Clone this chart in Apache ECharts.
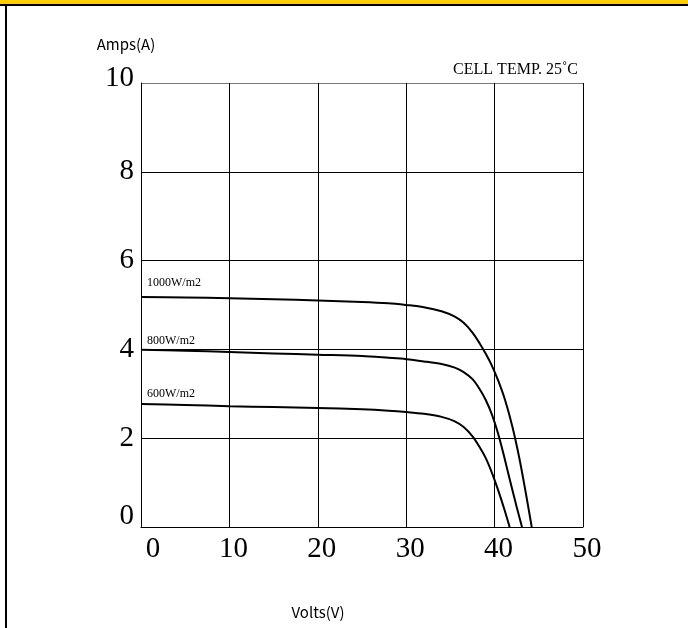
<!DOCTYPE html>
<html><head><meta charset="utf-8">
<script src="https://cdn.jsdelivr.net/npm/echarts@6/dist/echarts.min.js"></script>
<style>html,body{margin:0;padding:0;background:#fff}#c{width:688px;height:628px}</style>
</head><body><div id="c"></div>
<script>
var seriesNames = ['1000W/m2', '800W/m2', '600W/m2'];
var irr1000 = [[0,5.18],[5,5.17],[10,5.15],[15,5.13],[20,5.1],[25,5.07],[28,5.04],[30,5.0],[32,4.95],[34,4.86],[35.5,4.74],[36.5,4.6],[37.5,4.38],[38.3,4.14],[39,3.9],[39.7,3.63],[40.4,3.3],[41.2,2.85],[42,2.27],[42.8,1.55],[43.5,0.8],[44.2,0]];
var irr800 = [[0,3.99],[5,3.97],[10,3.94],[15,3.91],[20,3.88],[25,3.85],[28,3.81],[30,3.78],[32,3.73],[34,3.67],[35.5,3.59],[36.5,3.49],[37.5,3.33],[38.3,3.11],[39,2.86],[39.7,2.53],[40.4,2.1],[41.1,1.57],[41.8,1.0],[42.5,0.45],[43.1,0]];
var irr600 = [[0,2.77],[5,2.75],[10,2.72],[15,2.7],[20,2.68],[25,2.65],[28,2.62],[30,2.59],[32,2.55],[34,2.48],[35.5,2.38],[36.5,2.25],[37.5,2.04],[38.3,1.8],[39,1.55],[39.7,1.22],[40.4,0.83],[41.1,0.4],[41.7,0]];
var xTicks = [0,10,20,30,40,50];
var yTicks = [0,2,4,6,8,10];
var xTitle = 'Volts(V)';
var yTitle = 'Amps(A)';
var noteText = 'CELL TEMP. 25˚C';

var chart = echarts.init(document.getElementById('c'), null, {renderer:'canvas'});
var serif = '"Liberation Serif","Times New Roman",serif';
var sans = '"Noto Sans CJK JP","Noto Sans",sans-serif';
function mkSeries(name, data){
  return {name:name, type:'line', data:data, smooth:0.3, showSymbol:false, symbol:'none',
    lineStyle:{color:'#000', width:2}, silent:true, z:5};
}
var option = {
  backgroundColor:'#fff',
  animation:false,
  grid:{left:141, top:83, right:105, bottom:101, containLabel:false, show:false},
  xAxis:{type:'value', min:xTicks[0], max:xTicks[xTicks.length-1], interval:10,
    axisLine:{show:true, lineStyle:{color:'#000', width:1}},
    axisTick:{show:false},
    splitLine:{show:true, lineStyle:{color:'#000', width:1}},
    axisLabel:{margin:8, fontFamily:serif, fontSize:29, color:'#000',
      formatter:function(v){ return v===0 ? '{z|0}' : '{n|'+v+'}'; },
      rich:{z:{fontFamily:serif, fontSize:29, color:'#000', padding:[0,0,0,24]}, n:{fontFamily:serif, fontSize:29, color:'#000', padding:[0,0,0,8]}}}
  },
  yAxis:{type:'value', min:yTicks[0], max:yTicks[yTicks.length-1], interval:2,
    axisLine:{show:true, lineStyle:{color:'#000', width:1}},
    axisTick:{show:false},
    splitLine:{show:true, lineStyle:{color:['#000','#000','#000','#000','#000','#777'], width:1}},
    axisLabel:{margin:7, fontFamily:serif, fontSize:29, color:'#000',
      formatter:function(v){ return v===0 ? '{z|0}' : (v===10 ? '{t|10}' : '{n|'+v+'}'); },
      rich:{z:{fontFamily:serif, fontSize:29, color:'#000', padding:[0,0,22,0]},
            t:{fontFamily:serif, fontSize:29, color:'#000', padding:[0,0,10,0]},
            n:{fontFamily:serif, fontSize:29, color:'#000'}}}
  },
  series:[mkSeries(seriesNames[0], irr1000), mkSeries(seriesNames[1], irr800), mkSeries(seriesNames[2], irr600)],
  graphic:[
    {type:'rect', left:0, top:0, shape:{width:688, height:4}, style:{fill:'#FFCC00'}, silent:true},
    {type:'rect', left:0, top:4, shape:{width:688, height:2}, style:{fill:'#000'}, silent:true},
    {type:'rect', left:5, top:4, shape:{width:2, height:624}, style:{fill:'#000'}, silent:true},
    {type:'text', x:126, y:44, style:{text:yTitle, font:'15px '+sans, fill:'#000', textAlign:'center', textVerticalAlign:'middle'}},
    {type:'text', x:318, y:612, style:{text:xTitle, font:'15px '+sans, fill:'#000', textAlign:'center', textVerticalAlign:'middle'}},
    {type:'text', x:578, y:70, style:{text:noteText, font:'16px '+serif, fill:'#000', textAlign:'right', textVerticalAlign:'middle'}},
    {type:'text', x:147, y:283, style:{text:seriesNames[0], font:'12px '+serif, fill:'#000', textAlign:'left', textVerticalAlign:'middle'}},
    {type:'text', x:147, y:341, style:{text:seriesNames[1], font:'12px '+serif, fill:'#000', textAlign:'left', textVerticalAlign:'middle'}},
    {type:'text', x:147, y:394, style:{text:seriesNames[2], font:'12px '+serif, fill:'#000', textAlign:'left', textVerticalAlign:'middle'}}
  ]
};
chart.setOption(option);
</script></body></html>
